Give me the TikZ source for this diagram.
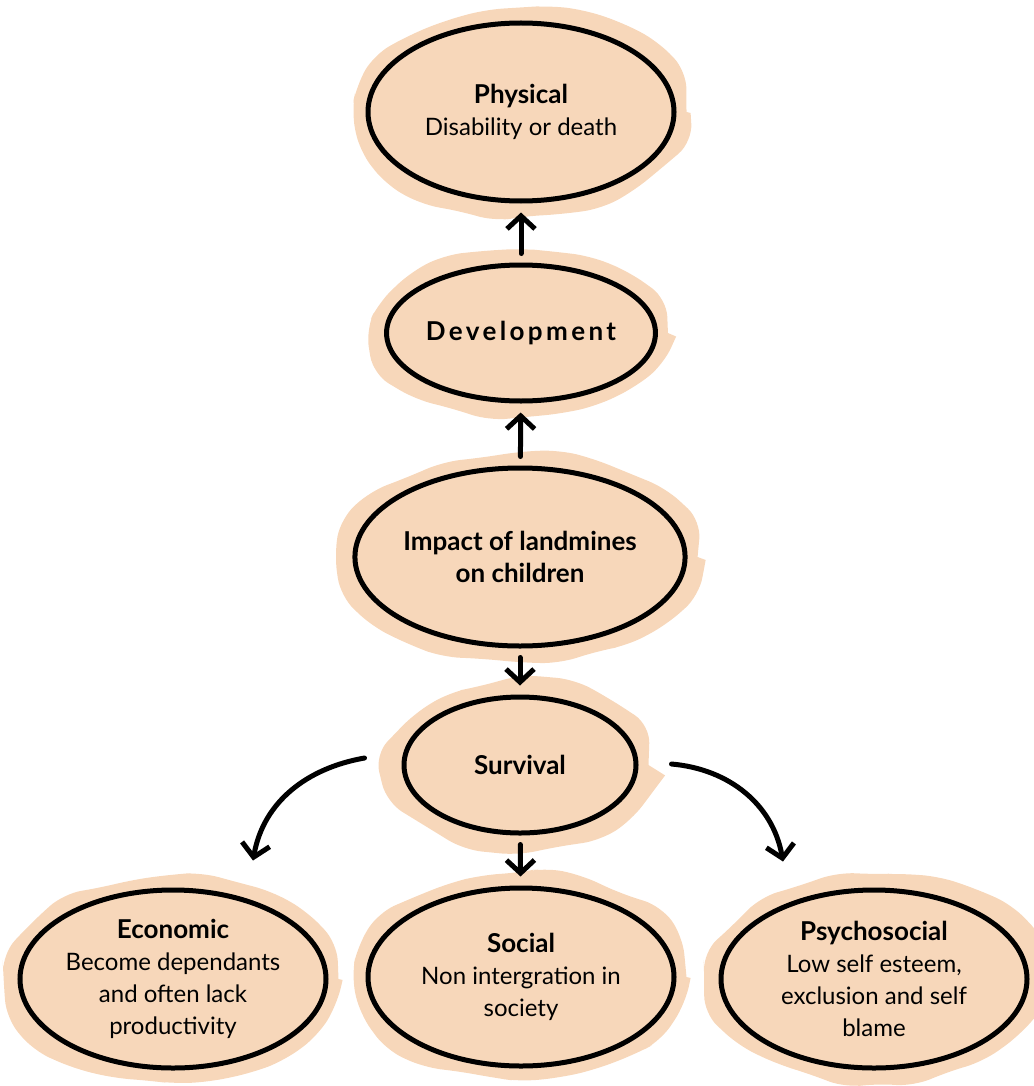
\documentclass[tikz,border=0pt]{standalone}
\usepackage{fontspec}
\setmainfont{Lato}
\usetikzlibrary{calc,positioning,shapes.geometric,arrows.meta,decorations.pathmorphing,backgrounds}

\definecolor{peach}{RGB}{247,215,186}
\newcommand\headtxt[1]{{\fontsize{26}{31}\selectfont\bfseries #1}}

\begin{document}
\begin{tikzpicture}[
                x=1pt, y=1pt,
                bubble/.style={ellipse,draw,line width=5pt,fill=peach,align=center,inner sep=0pt,font=\fontsize{24}{32}\selectfont},
                bigbubble/.style={bubble,minimum width=306pt,minimum height=178pt},
                smallbubble/.style={bubble,minimum width=232pt,minimum height=136pt},
                blob/.style={fill=peach,decorate,decoration={random steps,segment length=38pt,amplitude=5pt},rounded corners=18pt},
                arr/.style={line width=5pt,line cap=round,-{Straight Barb[length=13pt,width=28pt,line width=5pt]}},
                vert/.style={arr,shorten <=9pt,shorten >=9pt}
            ]
                \pgfmathsetseed{11}
                \useasboundingbox (0,0) rectangle (1033,-1086);
                \node [bigbubble] (phys) at (521,-112) {\headtxt{Physical}\\Disability or death};
                \node [smallbubble] (dev) at (521,-333) {\addfontfeature{LetterSpace=13}\headtxt{Development}};
                \node [bigbubble] (imp) at (520,-557) {\headtxt{Impact of landmines}\\\headtxt{on children}};
                \node [smallbubble] (surv) at (520,-765) {\headtxt{Survival}};
                \node [bigbubble] (econ) at (173,-979) {\headtxt{Economic}\\Become dependants\\and often lack\\productivity};
                \node [bigbubble] (soc) at (521,-977) {\headtxt{Social}\\Non intergration in\\society};
                \node [bigbubble] (psy) at (874,-979) {\headtxt{Psychosocial}\\Low self esteem,\\exclusion and self\\blame};
                \begin{scope}[on background layer]
                    \foreach \b in {phys,dev,imp,surv,econ,soc,psy} {
                        \path [blob] let \p1=($(\b.east)-(\b.center)$), \p2=($(\b.north)-(\b.center)$) in
                            (\b.center) ellipse [x radius=\x1+10pt, y radius=\y2+12pt];
                    }
                \end{scope}
                \draw [vert] (dev) -- (phys);
                \draw [vert] (imp) -- (dev);
                \draw [vert] (imp) -- (surv);
                \draw [vert] (surv) -- (soc);
                \draw [arr] ([xshift=-37pt,yshift=7pt]surv.west) to[out=190,in=80] ([xshift=80pt,yshift=27pt]econ.north);
                \draw [arr] ([xshift=33pt,yshift=1pt]surv.east) to[out=-5,in=100] ([xshift=-91pt,yshift=26pt]psy.north);
            \end{tikzpicture}
\end{document}
